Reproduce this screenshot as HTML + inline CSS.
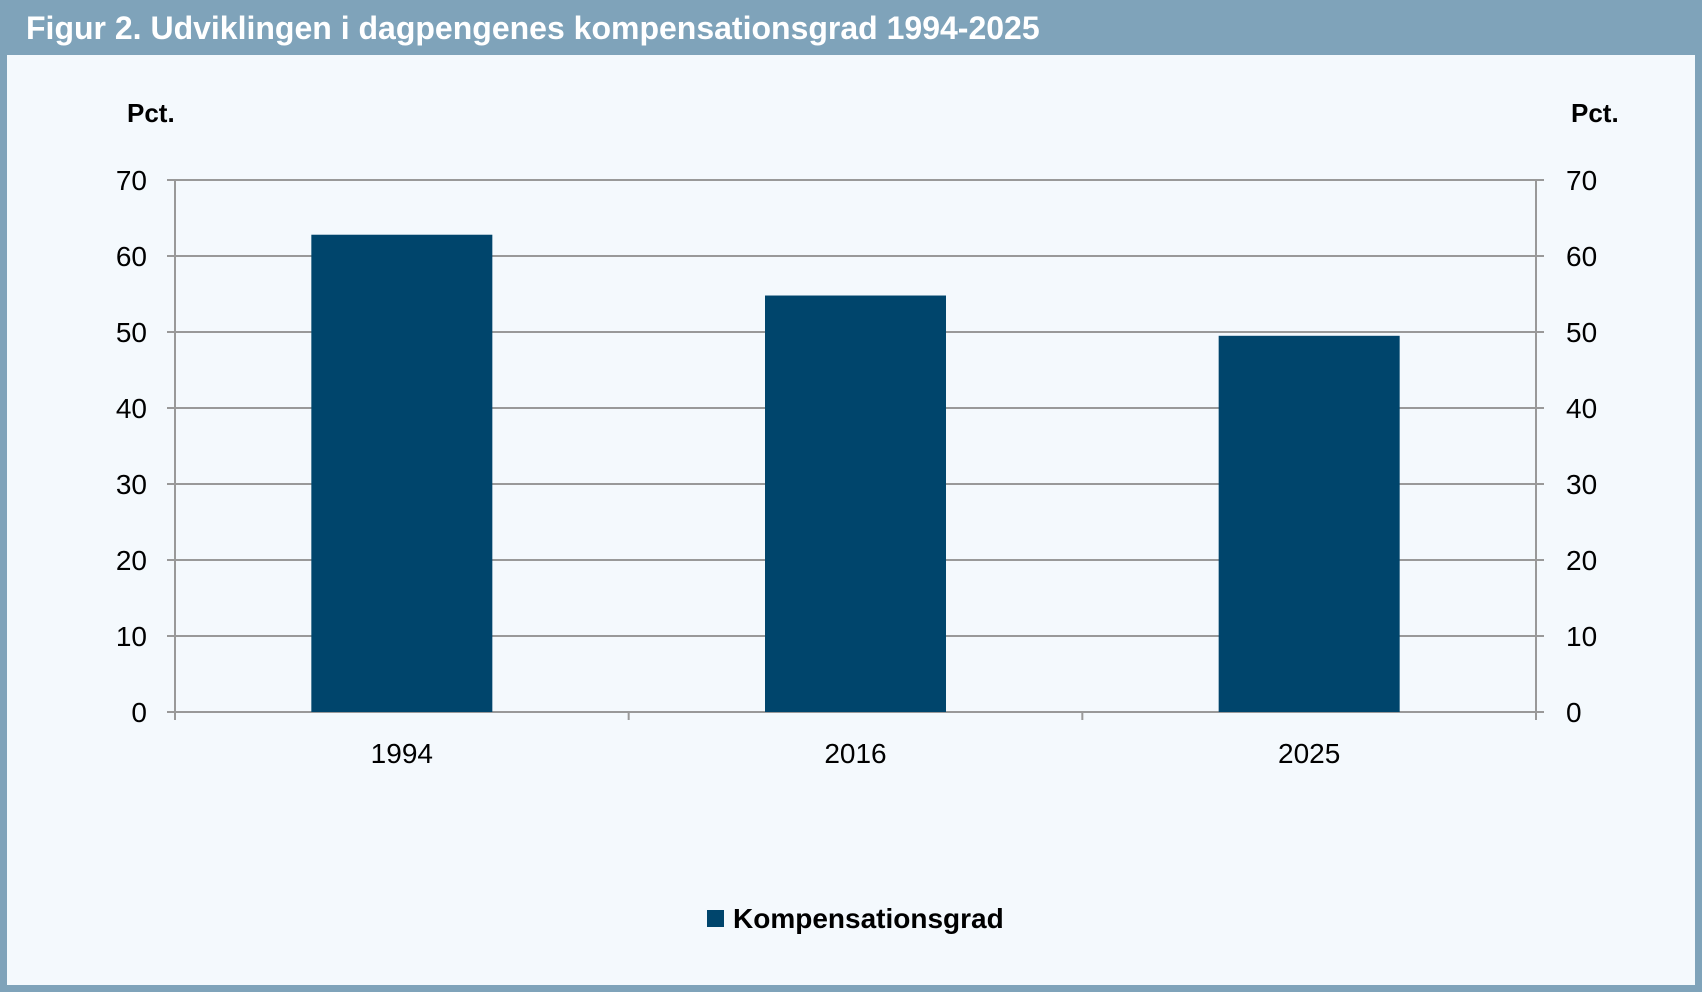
<!DOCTYPE html>
<html><head><meta charset="utf-8"><style>
html,body{margin:0;padding:0;}
body{width:1702px;height:992px;overflow:hidden;background:#7fa3ba;font-family:"Liberation Sans",sans-serif;}
#frame{position:absolute;left:0;top:0;width:1702px;height:992px;}
</style></head><body>
<svg id="frame" width="1702" height="992">
<rect x="0" y="0" width="1702" height="992" fill="#7fa3ba"/>
<rect x="7" y="55" width="1688" height="930" fill="#f4f9fd"/>
<text x="26" y="39" font-size="32" font-weight="bold" fill="#ffffff">Figur 2. Udviklingen i dagpengenes kompensationsgrad 1994-2025</text>
<text x="127" y="122" font-size="26" font-weight="bold" fill="#000">Pct.</text>
<text x="1571" y="122" font-size="26" font-weight="bold" fill="#000">Pct.</text>
<g id="grid"></g><g id="bars"></g><g id="axes"></g>
<rect x="707" y="910" width="17" height="17" fill="#00456c"/>
<text x="733" y="928" font-size="28" font-weight="bold" fill="#000">Kompensationsgrad</text>
</svg>
<script>
const categories=["1994","2016","2025"];
const values=[62.8,54.8,49.5];
const yTicks=[0,10,20,30,40,50,60,70];
const NS="http://www.w3.org/2000/svg";
const L=175,R=1536,T=180,B=712,YMAX=70;
const y=v=>B-(v/YMAX)*(B-T);
const bandW=(R-L)/categories.length;
const xc=i=>L+bandW*(i+0.5);
const GC="#999999";
function mk(tag,attrs,parent){const e=document.createElementNS(NS,tag);for(const k in attrs)e.setAttribute(k,attrs[k]);document.getElementById(parent).appendChild(e);return e;}
yTicks.forEach(t=>{
  const g=mk("line",{x1:L,x2:R,y1:y(t),y2:y(t),stroke:GC,"stroke-width":2},"grid");
  
  
  mk("line",{x1:L-8,x2:L,y1:y(t),y2:y(t),stroke:GC,"stroke-width":2},"axes");
  mk("line",{x1:R,x2:R+8,y1:y(t),y2:y(t),stroke:GC,"stroke-width":2},"axes");
  const a=mk("text",{x:L-28,y:y(t)+10,"font-size":28,"text-anchor":"end",fill:"#000"},"axes");a.textContent=t;
  
  
  const b=mk("text",{x:R+30,y:y(t)+10,"font-size":28,fill:"#000"},"axes");b.textContent=t;
  
  
});
mk("line",{x1:L,x2:L,y1:T,y2:B,stroke:GC,"stroke-width":2},"axes");
mk("line",{x1:R,x2:R,y1:T,y2:B,stroke:GC,"stroke-width":2},"axes");
for(let i=0;i<=categories.length;i++){mk("line",{x1:L+bandW*i,x2:L+bandW*i,y1:B,y2:B+8,stroke:GC,"stroke-width":2},"axes");}
const bw=181;
categories.forEach((c,i)=>{
  const r=mk("rect",{x:xc(i)-bw/2,y:y(values[i]),width:bw,height:B-y(values[i]),fill:"#00456c"},"bars");
  
  
  const t=mk("text",{x:xc(i),y:763,"font-size":28,"text-anchor":"middle",fill:"#000"},"axes");t.textContent=c;
  
  
});
</script>
</body></html>
